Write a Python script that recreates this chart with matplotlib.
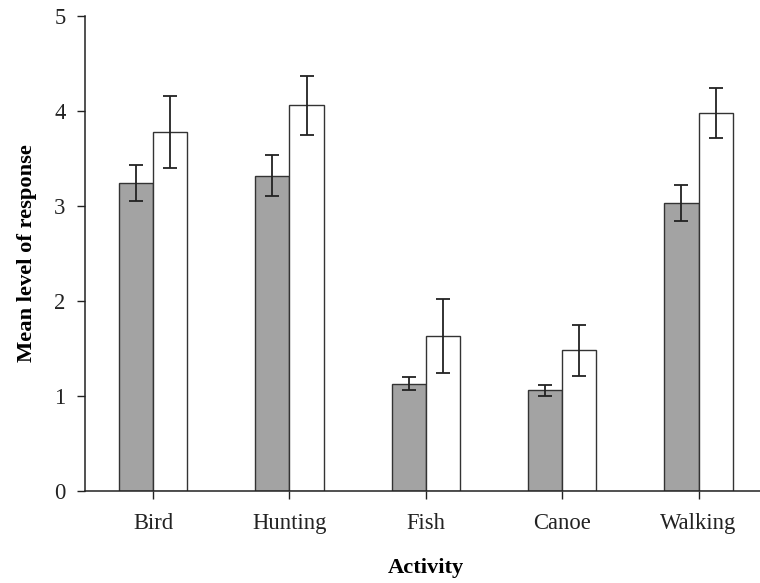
import numpy as np
import matplotlib
matplotlib.use("Agg")
import matplotlib.pyplot as plt

# dados
atividades = ["Bird", "Hunting", "Fish", "Canoe", "Walking"]
media_cinza = [3.24, 3.32, 1.13, 1.06, 3.03]
erro_cinza = [0.19, 0.22, 0.07, 0.06, 0.19]
media_branca = [3.78, 4.06, 1.63, 1.48, 3.98]
erro_branca = [0.38, 0.31, 0.39, 0.27, 0.26]

plt.rcParams["font.family"] = ["Liberation Serif", "DejaVu Serif"]

fig = plt.figure(figsize=(7.6, 5.83), dpi=100)
ax = fig.add_axes([0.1118, 0.1578, 0.897, 0.8148])

x = np.arange(len(atividades))
largura = 0.25
err_kw = dict(ecolor="#222222", elinewidth=1.3, capsize=5.3, capthick=1.3)

ax.bar(x - largura / 2, media_cinza, largura, color="#a3a3a3",
       edgecolor="#333333", linewidth=1.0, yerr=erro_cinza, error_kw=err_kw)
ax.bar(x + largura / 2, media_branca, largura, color="white",
       edgecolor="#333333", linewidth=1.0, yerr=erro_branca, error_kw=err_kw)

ax.set_xlim(-0.5, 4.5)
ax.set_ylim(0, 5)
ax.set_xticks(x)
ax.set_xticklabels(atividades)
ax.set_yticks([0, 1, 2, 3, 4, 5])
ax.tick_params(axis="both", direction="out", length=6, width=1.0,
               labelsize=16.3, colors="#222222", pad=8)
ax.tick_params(axis="x", pad=10)

for lado in ["top", "right"]:
    ax.spines[lado].set_visible(False)
for lado in ["left", "bottom"]:
    ax.spines[lado].set_color("#222222")
    ax.spines[lado].set_linewidth(1.1)

ax.set_ylabel("Mean level of response", fontsize=16.2, fontweight="bold",
              labelpad=12)
ax.set_xlabel("Activity", fontsize=16.2, fontweight="bold", labelpad=17)

plt.savefig("out.png", dpi=100)
plt.close()
